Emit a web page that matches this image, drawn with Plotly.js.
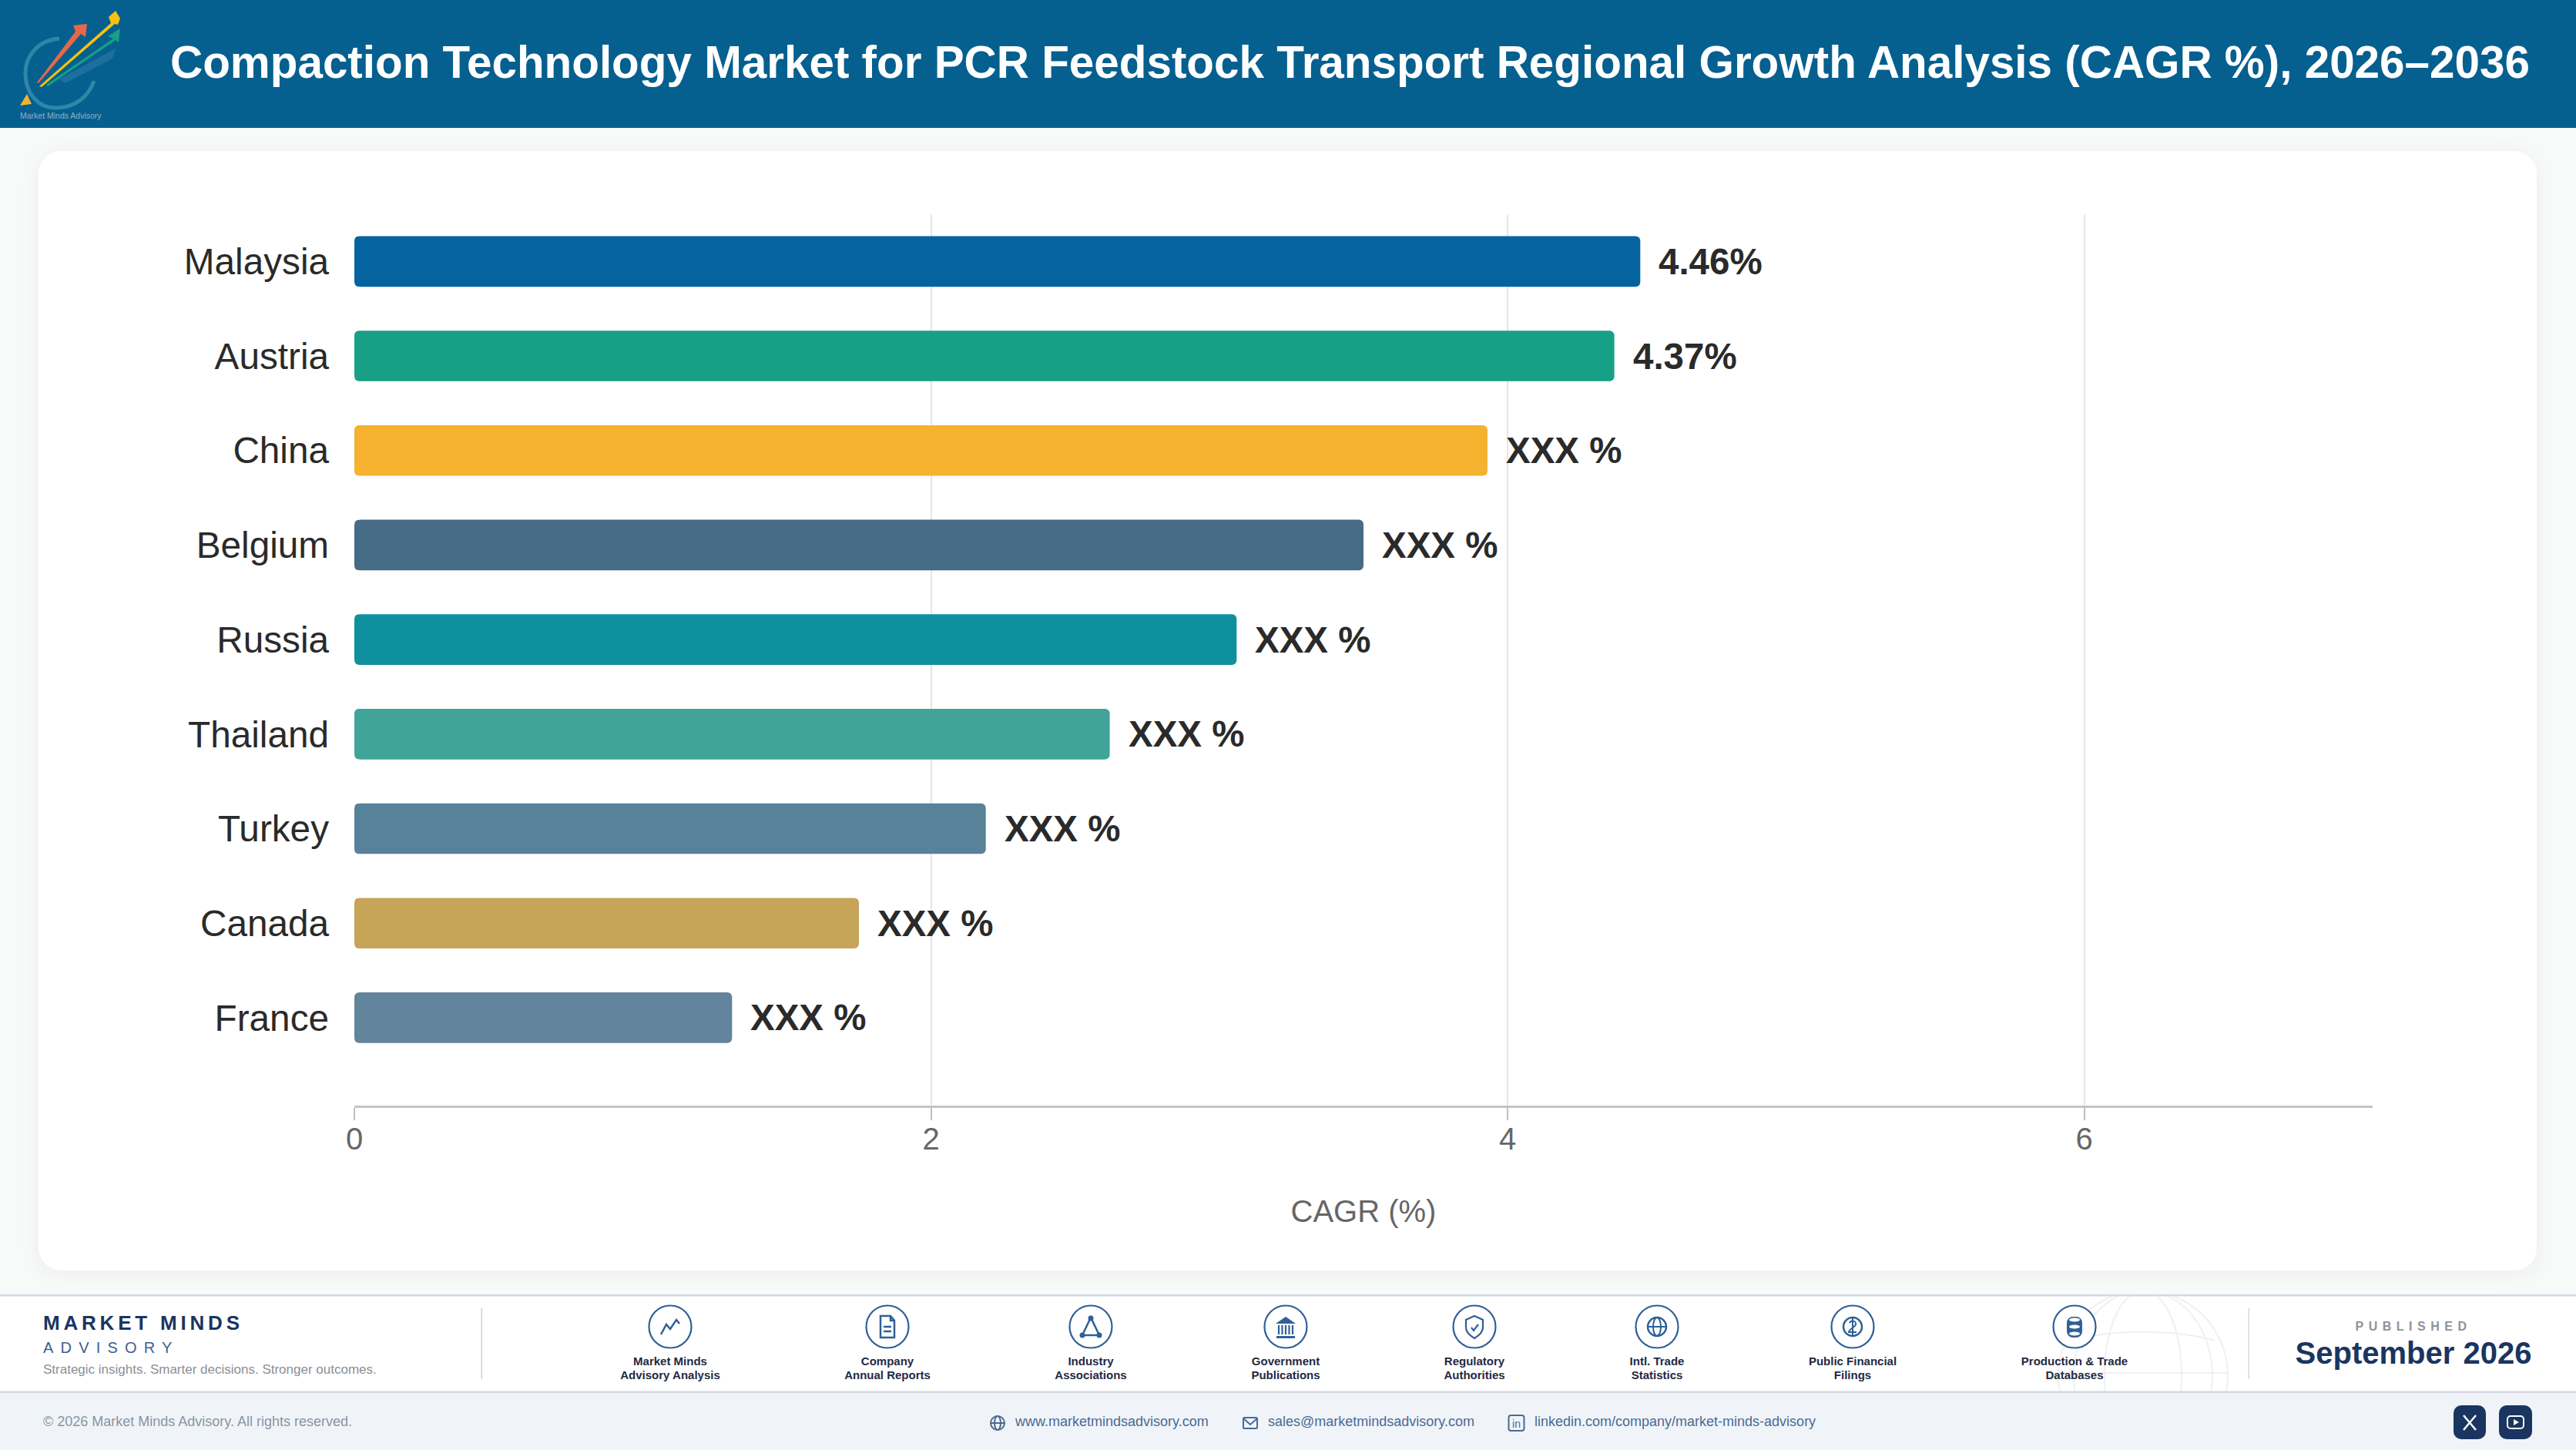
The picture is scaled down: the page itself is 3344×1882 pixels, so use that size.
<!DOCTYPE html>
<html><head><meta charset="utf-8">
<script src="https://cdn.plot.ly/plotly-3.0.1.min.js"></script>
<style>
html,body{margin:0;padding:0;width:3344px;height:1882px;overflow:hidden;background:#f8f9f9;font-family:"Liberation Sans",Arial,sans-serif}
#chrome{position:absolute;left:0;top:0}
#chart{position:absolute;left:0;top:0;width:3344px;height:1882px}
</style></head><body>
<svg id="chrome" width="3344" height="1882" xmlns="http://www.w3.org/2000/svg"></svg>
<div id="chart"></div>
<script>
const titleText = "Compaction Technology Market for PCR Feedstock Transport Regional Growth Analysis (CAGR %), 2026–2036";
const categories = ["Malaysia","Austria","China","Belgium","Russia","Thailand","Turkey","Canada","France"];
const cagrValues = [4.46,4.37,3.93,3.50,3.06,2.62,2.19,1.75,1.31];
const valueLabels = ["4.46%","4.37%","XXX %","XXX %","XXX %","XXX %","XXX %","XXX %","XXX %"];
const barColors = ["#0563a0","#17a085","#f5b22f","#456b85","#0e909e","#40a598","#58819a","#c6a458","#62849c"];
const xTicks = [0,2,4,6];
const xAxisTitle = "CAGR (%)";
const sourceLabels = [["Market Minds","Advisory Analysis"],["Company","Annual Reports"],["Industry","Associations"],["Government","Publications"],["Regulatory","Authorities"],["Intl. Trade","Statistics"],["Public Financial","Filings"],["Production & Trade","Databases"]];
const sourceCenters = [870,1152,1416,1669,1914,2151,2405,2693];
const FONT = '"Liberation Sans", Arial, sans-serif';

/* page furniture */
const IC = "#2f6096", NAVY = "#1a3560";
const icons = [
 `<polyline points="-12,10 -5,-3 0,3 8,-9 12,-4" fill="none" stroke="${IC}" stroke-width="2.5"/>`,
 `<path d="M-9,-14H4L9,-8V14H-9Z M4,-14V-8H9 M-5,0H5 M-5,6H5" fill="none" stroke="${IC}" stroke-width="2.5"/>`,
 `<path d="M0,-12L-11,11H11Z" fill="none" stroke="${IC}" stroke-width="2.5"/><circle cx="0" cy="-11" r="3.5" fill="${IC}"/><circle cx="-11" cy="11" r="3.5" fill="${IC}"/><circle cx="11" cy="11" r="3.5" fill="${IC}"/>`,
 `<path d="M0,-13L13,-4H-13Z M-12,12H12V15H-12Z" fill="${IC}"/><path d="M-9,-2V10M-4.5,-2V10M0,-2V10M4.5,-2V10M9,-2V10" stroke="${IC}" stroke-width="2.2"/>`,
 `<path d="M0,-14L11,-9V1C11,8 5,12 0,15C-5,12 -11,8 -11,1V-9Z" fill="none" stroke="${IC}" stroke-width="2.2"/><path d="M-4,1L-1,5L5,-3" fill="none" stroke="${IC}" stroke-width="2.2"/>`,
 `<circle r="12" fill="none" stroke="${IC}" stroke-width="2.5"/><ellipse rx="5" ry="12" fill="none" stroke="${IC}" stroke-width="2"/><path d="M-12,0H12" stroke="${IC}" stroke-width="2"/>`,
 `<circle r="12" fill="none" stroke="${IC}" stroke-width="2.5"/><path d="M-4,-5C-2,-9 5,-8 4,-3C3,1 -5,3 -5,7H5 M0,-11V11" fill="none" stroke="${IC}" stroke-width="2"/>`,
 `<rect x="-10" y="-13" width="20" height="27" rx="8" fill="${IC}"/><ellipse cy="-9" rx="7" ry="2.5" fill="#fff"/><ellipse cy="0" rx="7" ry="2.5" fill="#fff"/><ellipse cy="9" rx="7" ry="2.5" fill="#fff"/>`
];
function txt(x,y,s,size,fill,o){o=o||{};return `<text x="${x}" y="${y}" font-size="${size}" fill="${fill}" font-family='${FONT}' text-anchor="${o.a||'start'}" font-weight="${o.w||'normal'}" letter-spacing="${o.ls||0}">${s.replace(/&/g,'&amp;')}</text>`;}
let s = "";
s += `<defs><filter id="sh" x="-5%" y="-5%" width="110%" height="110%"><feDropShadow dx="0" dy="4" stdDeviation="12" flood-color="#000" flood-opacity="0.05"/></filter><clipPath id="fc"><rect x="0" y="1683" width="3344" height="124"/></clipPath></defs>`;
s += `<rect x="0" y="0" width="3344" height="166" fill="#05608f"/>`;
s += `<rect x="50" y="196" width="3243" height="1453" rx="30" fill="#fff" filter="url(#sh)"/>`;
/* logo */
s += `<path d="M77,50C50,52 33,72 33,95C33,122 50,140 72,140C98,140 115,125 122,105" fill="none" stroke="#2f86a8" stroke-width="5"/>`;
s += `<path d="M76,103L150,63L146,76L85,108Z" fill="#1d6f9f"/>`;
s += `<path d="M60,110L147,50L140,47L156,37L154,55L150,52L62,112Z" fill="#17a085"/>`;
s += `<path d="M48,107L98,41L95,33L113,31L111,48L105,44L50,108Z" fill="#e8674a"/>`;
s += `<path d="M51,112L144,30L141,22L150,14L156,24L153,32L149,31L54,113Z" fill="#f6c20f"/>`;
s += `<path d="M26,137L35,122L41,135Z" fill="#f5b22f"/>`;
s += txt(26,154,"Market Minds Advisory",10.5,"#8fb0c6");
/* footer */
s += `<rect x="0" y="1681" width="3344" height="126" fill="#fff"/>`;
s += `<rect x="0" y="1807" width="3344" height="75" fill="#f0f4f9"/>`;
s += `<g clip-path="url(#fc)" fill="none" stroke="#eef0f3" stroke-width="2"><circle cx="2782" cy="1785" r="110"/><ellipse cx="2782" cy="1785" rx="50" ry="110"/><ellipse cx="2782" cy="1785" rx="90" ry="110"/><path d="M2672,1782H2892M2690,1740C2740,1725 2825,1725 2875,1740"/></g>`;
s += `<rect x="0" y="1680" width="3344" height="2.5" fill="#d4d6e6"/><rect x="0" y="1805.5" width="3344" height="2.5" fill="#d4d6e6"/>`;
s += txt(56,1726,"MARKET MINDS",26,NAVY,{w:'bold',ls:4.8});
s += txt(56,1756,"ADVISORY",20,"#3f5f8f",{ls:9.2});
s += txt(56,1783,"Strategic insights. Smarter decisions. Stronger outcomes.",17,"#8a8f98");
s += `<rect x="624.5" y="1698" width="1.5" height="92" fill="#c8d4e0"/><rect x="2918.5" y="1698" width="1.5" height="92" fill="#d5d8dc"/>`;
sourceLabels.forEach((l,i)=>{const c=sourceCenters[i];
 s += `<circle cx="${c}" cy="1722" r="27.5" fill="#fff" stroke="${IC}" stroke-width="2.2"/><g transform="translate(${c},1722)">${icons[i]}</g>`;
 s += txt(c,1772,l[0],15,"#1f2a44",{a:'middle',w:'bold'}) + txt(c,1790,l[1],15,"#1f2a44",{a:'middle',w:'bold'});
});
s += txt(3133,1727,"PUBLISHED",16,"#8f9299",{a:'middle',w:'bold',ls:6.5});
s += txt(3133,1770,"September 2026",40,NAVY,{a:'middle',w:'bold'});
s += txt(56,1851,"© 2026 Market Minds Advisory. All rights reserved.",18,"#8a94a3");
const LC="#4a6a94";
s += `<g transform="translate(1295,1847)" fill="none" stroke="${LC}" stroke-width="2"><circle r="9"/><ellipse rx="4" ry="9"/><path d="M-9,0H9"/></g>`;
s += txt(1318,1851,"www.marketmindsadvisory.com",18,LC);
s += `<g transform="translate(1623,1847)" fill="none" stroke="${LC}" stroke-width="2"><rect x="-9" y="-7" width="18" height="14" rx="1.5"/><path d="M-9,-6L0,2L9,-6"/></g>`;
s += txt(1646,1851,"sales@marketmindsadvisory.com",18,LC);
s += `<g transform="translate(1968.5,1847)"><rect x="-10" y="-10" width="20" height="20" rx="3" fill="none" stroke="${LC}" stroke-width="2"/><text x="0" y="6" text-anchor="middle" font-size="14" fill="${LC}" font-family='${FONT}'>in</text></g>`;
s += txt(1992,1851,"linkedin.com/company/market-minds-advisory",18,LC);
s += `<rect x="3185" y="1824" width="42" height="44" rx="10" fill="${NAVY}"/><rect x="3244" y="1824" width="43" height="44" rx="10" fill="${NAVY}"/>`;
s += `<path d="M3198,1837L3214,1856M3214,1837L3198,1856" stroke="#fff" stroke-width="2.5"/>`;
s += `<rect x="3255" y="1838" width="21" height="16" rx="4" fill="none" stroke="#fff" stroke-width="2"/><path d="M3263,1842L3270,1846L3263,1850Z" fill="#fff"/>`;
document.getElementById("chrome").innerHTML = s;

/* chart */
const L=459.5,R=3080,T=278,B=1435.5,W=3344,H=1882;
const trace = {type:"bar",orientation:"h",y:categories,x:cagrValues,width:0.535,
  marker:{color:barColors,cornerradius:6,line:{width:0}},hoverinfo:"skip",cliponaxis:false};
const annotations = categories.map((c,i)=>({x:cagrValues[i],y:c,xref:"x",yref:"y",text:valueLabels[i],showarrow:false,xanchor:"left",yanchor:"middle",xshift:22,
  font:{family:FONT,size:47.5,color:"#2a2a2a",weight:700}}));
/* plotly rounds only a bar's far end; these small white wedges round its base end too */
const h = 33, r = 7;
const baseCorners = categories.map((c,i)=>({type:"path",xsizemode:"pixel",ysizemode:"pixel",xref:"x",yref:"y",xanchor:0,yanchor:i,layer:"above",
  path:`M-1,${-h-1} L${r},${-h-1} L${r},${-h} Q0,${-h} 0,${-h+r} L-1,${-h+r} Z M-1,${h+1} L${r},${h+1} L${r},${h} Q0,${h} 0,${h-r} L-1,${h-r} Z`,
  fillcolor:"#fff",line:{width:0}}));
const layout = {
  width:W,height:H,paper_bgcolor:"rgba(0,0,0,0)",plot_bgcolor:"rgba(0,0,0,0)",showlegend:false,
  margin:{l:L,r:W-R,t:T,b:H-B,pad:0},
  title:{text:"<b>"+titleText+"</b>",xref:"container",yref:"container",x:221/W,y:1-81/H,xanchor:"left",yanchor:"middle",font:{family:FONT,size:58.4,color:"#fff"}},
  xaxis:{range:[0,7],tickmode:"array",tickvals:xTicks,ticktext:xTicks.map(String),ticks:"outside",ticklen:16,tickwidth:2,tickcolor:"#c0c0c0",ticklabelstandoff:-10,
    showgrid:true,gridcolor:"#e6e6e6",gridwidth:2,zeroline:false,showline:true,linecolor:"#c4c4c4",linewidth:3,
    tickfont:{family:FONT,size:40,color:"#666"},title:{text:xAxisTitle,font:{family:FONT,size:40,color:"#666"},standoff:59}},
  yaxis:{type:"category",categoryorder:"array",categoryarray:categories,range:[8.93,-0.5],showgrid:false,zeroline:false,showline:false,ticks:"",ticklabelstandoff:32,
    tickfont:{family:FONT,size:47.7,color:"#2a2a2a"}},
  annotations,shapes:baseCorners,bargap:0.465
};
Plotly.newPlot("chart",[trace],layout,{displayModeBar:false,staticPlot:true});
</script></body></html>
